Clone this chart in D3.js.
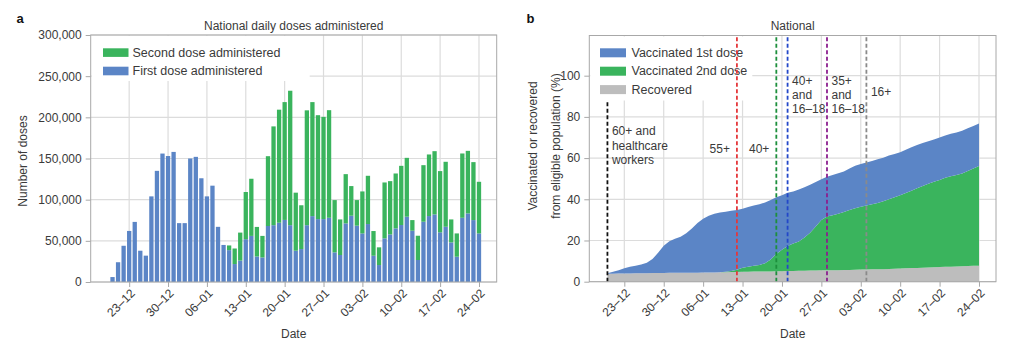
<!DOCTYPE html>
<html><head><meta charset="utf-8">
<script src="https://cdn.jsdelivr.net/npm/d3@7"></script>
<style>
body{margin:0;background:#fff}
svg{display:block}
text{font-family:"Liberation Sans",Arial,Helvetica,sans-serif}
</style>
</head><body>
<svg id="chart" width="1024" height="358"></svg>
<script>
// ---------------- DATA ----------------
const firstDate = "2020-12-20";
const lastDate = "2021-02-24";

// Panel a: daily doses
const firstDoseDaily = [6000,24000,44000,62000,73000,38000,32000,104000,135000,156000,
  153000,158000,71500,71500,150000,152000,126000,104000,117000,67000,
  45000,38700,21800,26000,52000,56000,31000,29800,68000,69000,
  72000,75400,69000,38000,40000,69000,80000,76400,76400,78000,
  36000,32800,71200,80500,68400,59000,70400,31900,20600,53000,
  57800,65100,69200,79300,62300,26700,73200,80100,82100,60300,
  67100,48100,30700,78000,83300,75200,59000];
const secondDoseDaily = [0,0,0,0,0,0,0,0,0,0,
  0,0,0,0,0,0,0,0,0,0,
  0,5700,18900,34000,57300,69400,35900,26200,84800,120000,
  137300,143100,163300,70500,53200,139500,138500,126200,124200,130700,
  63500,43200,59800,36000,31100,51000,58600,30000,21500,67900,
  64700,66700,71900,71500,12900,29500,68700,74800,76800,74400,
  78900,27900,28300,78100,76000,70400,62700];

// Panel b: cumulative % of eligible population
const recoveredPct = [3.9,3.9,4.0,4.0,4.0,4.1,4.1,4.1,4.2,4.2,
  4.2,4.3,4.3,4.3,4.4,4.4,4.4,4.5,4.5,4.5,
  4.6,4.6,4.7,4.7,4.8,4.8,4.9,4.9,5.0,5.0,
  5.1,5.1,5.2,5.2,5.3,5.3,5.4,5.4,5.5,5.5,
  5.6,5.6,5.7,5.7,5.8,5.9,5.9,6.0,6.1,6.1,
  6.2,6.3,6.4,6.5,6.6,6.7,6.8,6.9,7.0,7.1,
  7.2,7.3,7.4,7.5,7.6,7.7,7.8];
const firstDosePct = [0.2,0.9,1.6,2.5,3.2,3.7,4.3,5.1,6.8,9.8,
  13.3,15.3,16.5,17.5,19.1,21.4,24.1,26.0,27.5,28.5,
  29.0,29.4,29.7,30.1,30.6,31.5,32.1,32.7,33.5,34.6,
  35.9,36.9,38.0,38.6,39.5,40.5,41.6,43.0,44.2,45.5,
  46.2,47.0,47.8,49.3,50.5,51.2,51.9,52.6,53.3,54.1,
  55.0,55.7,56.4,57.5,58.6,59.7,60.5,61.3,62.0,62.9,
  63.8,64.5,65.0,65.8,66.9,67.9,69.0];
const secondDosePct = [0,0,0,0,0,0,0,0,0,0,
  0,0,0,0,0,0,0,0,0,0,
  0,0.2,0.5,1.1,2.0,2.5,2.9,3.2,4.0,5.8,
  8.4,10.4,12.1,13.3,14.2,16.2,18.4,21.4,24.5,26.1,
  26.7,27.4,28.1,29.1,29.9,30.5,31.1,31.6,32.1,32.9,
  33.8,34.7,35.6,36.6,37.6,38.6,39.6,40.6,41.5,42.3,
  43.2,43.9,44.4,45.0,46.1,47.3,48.4];

const tickDates = ["2020-12-23","2020-12-30","2021-01-06","2021-01-13","2021-01-20",
  "2021-01-27","2021-02-03","2021-02-10","2021-02-17","2021-02-24"];
const tickLabels = ["23–12","30–12","06–01","13–01","20–01","27–01","03–02","10–02","17–02","24–02"];
const doseTicks = [0,50000,100000,150000,200000,250000,300000];
const pctTicks = [0,20,40,60,80,100];

const phaseDates = ["2020-12-20","2021-01-12","2021-01-19","2021-01-21","2021-01-28","2021-02-04"];
const phaseLabels = [["60+ and","healthcare","workers"],["55+"],["40+"],["40+","and","16–18"],["35+","and","16–18"],["16+"]];
const phaseTop = [87.4,119.5,119.5,119.5,119.5,119.5];
const phaseLabelY = [73.2,64.8,64.8,97.9,97.9,92.2];
const phaseSide = ["right","left","left","right","right","right"];
const phaseColors = ["#111111","#e5383b","#1d8f3c","#2347c9","#8c1f8f","#8a8a8a"];

// ---------------- SETUP ----------------
const parse = d3.timeParse("%Y-%m-%d");
const DAY = 864e5;
const days = d3.timeDay.range(parse(firstDate), d3.timeDay.offset(parse(lastDate), 1));
const ticks = tickDates.map(parse);

const TXT = "#3a3a3a", GRID = "#dcdcdc", SPINE = "#a8a8a8";
const BLUE = "#5b85c6", GREEN = "#3ab45d", GRAY = "#bdbdbd";
const svg = d3.select("#chart");

function frameAndGrid(g, P, x, y, yTickVals, yFmt) {
  g.append("g").selectAll("line").data(ticks).join("line")
    .attr("x1", d => x(d)).attr("x2", d => x(d)).attr("y1", P.t).attr("y2", P.b)
    .attr("stroke", GRID).attr("stroke-width", 1.2);
  g.append("g").selectAll("line").data(yTickVals).join("line")
    .attr("x1", P.l).attr("x2", P.r).attr("y1", d => y(d)).attr("y2", d => y(d))
    .attr("stroke", GRID).attr("stroke-width", 1.2);
}
function axes(g, P, x, y, yTickVals, yFmt) {
  g.append("rect").attr("x", P.l).attr("y", P.t).attr("width", P.r - P.l).attr("height", P.b - P.t)
    .attr("fill", "none").attr("stroke", SPINE).attr("stroke-width", 1);
  const ya = g.append("g").attr("transform", `translate(${P.l},0)`)
    .call(d3.axisLeft(y).tickValues(yTickVals).tickFormat(yFmt).tickSize(5).tickPadding(4));
  const xa = g.append("g").attr("transform", `translate(0,${P.b})`)
    .call(d3.axisBottom(x).tickValues(ticks).tickFormat((d, i) => tickLabels[i]).tickSize(5));
  [ya, xa].forEach(a => {
    a.select(".domain").remove();
    a.selectAll(".tick line").attr("stroke", SPINE);
    a.selectAll("text").attr("fill", TXT).style("font-size", "12px");
  });
  xa.selectAll("text").attr("text-anchor", "end").attr("dy", null).attr("y", null)
    .attr("transform", "translate(6,12) rotate(-45)");
  g.append("text").attr("x", (P.l + P.r) / 2).attr("y", 338).attr("text-anchor", "middle")
    .attr("fill", TXT).style("font-size", "12px").text("Date");
}

// ---------------- PANEL A ----------------
const A = {l: 90.7, r: 496.7, t: 35, b: 282};
const xA = d3.scaleTime().domain([+days[0] - 3.93 * DAY, +days[days.length - 1] + 3.19 * DAY]).range([A.l, A.r]);
const yA = d3.scaleLinear().domain([0, 300000]).range([A.b, A.t]);
const gA = svg.append("g");
frameAndGrid(gA, A, xA, yA, doseTicks);
const bw = 4.3;
gA.append("g").selectAll("rect").data(days).join("rect")
  .attr("x", d => xA(d) - bw / 2).attr("width", bw)
  .attr("y", (d, i) => yA(firstDoseDaily[i])).attr("height", (d, i) => A.b - yA(firstDoseDaily[i]))
  .attr("fill", BLUE);
gA.append("g").selectAll("rect").data(days).join("rect")
  .attr("x", d => xA(d) - bw / 2).attr("width", bw)
  .attr("y", (d, i) => yA(firstDoseDaily[i] + secondDoseDaily[i]))
  .attr("height", (d, i) => yA(firstDoseDaily[i]) - yA(firstDoseDaily[i] + secondDoseDaily[i]))
  .attr("fill", GREEN);
// legend
gA.append("rect").attr("x", A.l + 1).attr("y", A.t + 1).attr("width", 218).attr("height", 45).attr("fill", "#fff");
[["Second dose administered", GREEN], ["First dose administered", BLUE]].forEach((it, i) => {
  gA.append("rect").attr("x", 103).attr("y", 48.3 + i * 18.4).attr("width", 25.5).attr("height", 8.6).attr("fill", it[1]);
  gA.append("text").attr("x", 132.5).attr("y", 57 + i * 18.4).attr("fill", TXT).style("font-size", "12.5px").text(it[0]);
});
axes(gA, A, xA, yA, doseTicks, d3.format(","));
gA.append("text").attr("x", (A.l + A.r) / 2).attr("y", 30).attr("text-anchor", "middle")
  .attr("fill", TXT).style("font-size", "12px").text("National daily doses administered");
gA.append("text").attr("transform", "translate(27,161) rotate(-90)").attr("text-anchor", "middle")
  .attr("fill", TXT).style("font-size", "12px").text("Number of doses");
svg.append("text").attr("x", 16.5).attr("y", 23).attr("fill", "#111").style("font-size", "13px").style("font-weight", "bold").text("a");

// ---------------- PANEL B ----------------
const B = {l: 589.3, r: 996, t: 35.5, b: 281.7};
const xB = d3.scaleTime().domain([+parse("2020-12-23") - 6.22 * DAY, +parse("2021-02-24") + 3.02 * DAY]).range([B.l, B.r]);
const yB = d3.scaleLinear().domain([0, 119.5]).range([B.b, B.t]);
const gB = svg.append("g");
frameAndGrid(gB, B, xB, yB, pctTicks);
const layers = [
  {c: GRAY, lo: i => 0, hi: i => recoveredPct[i]},
  {c: GREEN, lo: i => recoveredPct[i], hi: i => recoveredPct[i] + secondDosePct[i]},
  {c: BLUE, lo: i => recoveredPct[i] + secondDosePct[i], hi: i => recoveredPct[i] + firstDosePct[i]}
];
layers.forEach(L => {
  const area = d3.area().x(d => xB(d)).y0((d, i) => yB(L.lo(i))).y1((d, i) => yB(L.hi(i)));
  gB.append("path").datum(days).attr("d", area).attr("fill", L.c);
});
// legend
gB.append("rect").attr("x", B.l + 1).attr("y", B.t + 1).attr("width", 162).attr("height", 64).attr("fill", "#fff");
[["Vaccinated 1st dose", BLUE], ["Vaccinated 2nd dose", GREEN], ["Recovered", GRAY]].forEach((it, i) => {
  gB.append("rect").attr("x", 600).attr("y", 48.3 + i * 18.4).attr("width", 26).attr("height", 9).attr("fill", it[1]);
  gB.append("text").attr("x", 631.5).attr("y", 57 + i * 18.4).attr("fill", TXT).style("font-size", "12.5px").text(it[0]);
});
// phase lines
phaseDates.forEach((ds, k) => {
  const px = xB(parse(ds));
  gB.append("line").attr("x1", px).attr("x2", px).attr("y1", yB(0)).attr("y2", yB(phaseTop[k]))
    .attr("stroke", phaseColors[k]).attr("stroke-width", 1.8).attr("stroke-dasharray", "4,2.5");
  const t = gB.append("text").attr("fill", TXT).style("font-size", "12px")
    .attr("text-anchor", phaseSide[k] === "right" ? "start" : "end");
  phaseLabels[k].forEach((s, j) => {
    t.append("tspan").attr("x", px + (phaseSide[k] === "right" ? 4.5 : -7))
      .attr("y", yB(phaseLabelY[k]) + 4.5 + j * 14.3).text(s);
  });
});
axes(gB, B, xB, yB, pctTicks, d3.format("d"));
gB.append("text").attr("x", (B.l + B.r) / 2).attr("y", 30).attr("text-anchor", "middle")
  .attr("fill", TXT).style("font-size", "12px").text("National");
const yl = gB.append("text").attr("transform", "translate(537,146) rotate(-90)").attr("text-anchor", "middle")
  .attr("fill", TXT).style("font-size", "12px");
yl.append("tspan").attr("x", 0).attr("y", 0).text("Vaccinated or recovered");
yl.append("tspan").attr("x", 0).attr("y", 23).text("from eligible population (%)");
svg.append("text").attr("x", 526.5).attr("y", 23).attr("fill", "#111").style("font-size", "13px").style("font-weight", "bold").text("b");
</script>
</body></html>
